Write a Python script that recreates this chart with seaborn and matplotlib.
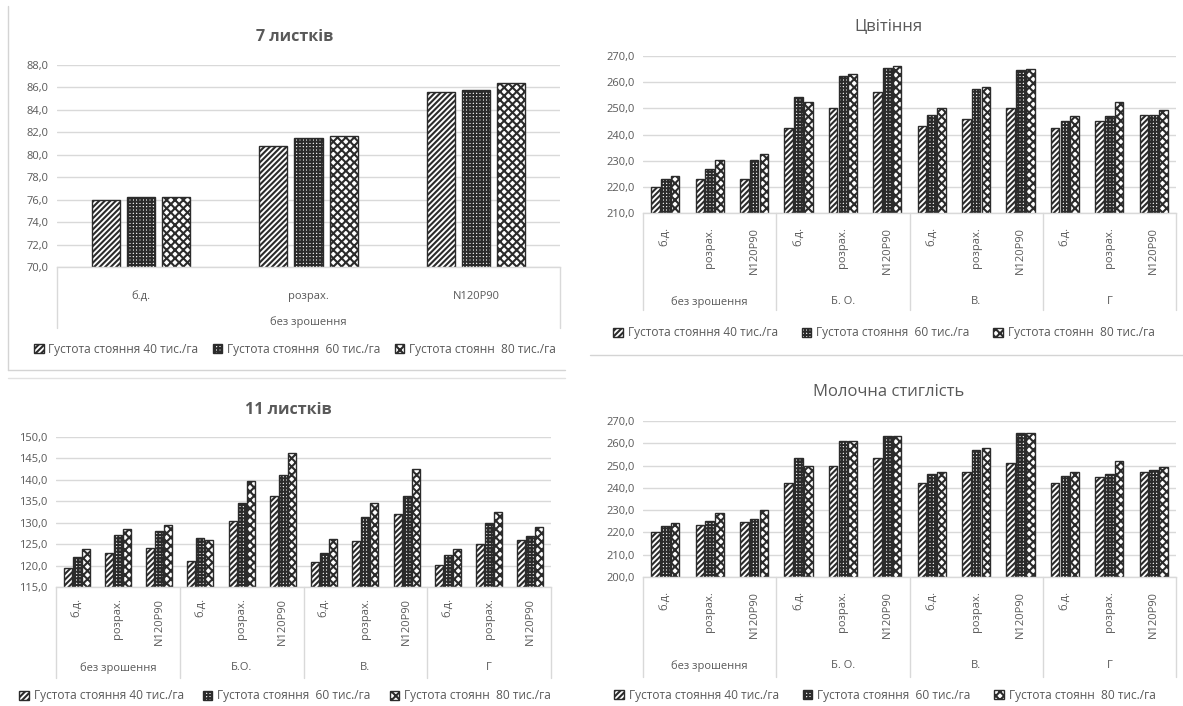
import matplotlib
matplotlib.use("Agg")
import matplotlib.pyplot as plt
import matplotlib.transforms as mtransforms
from matplotlib.lines import Line2D
from matplotlib.ticker import FuncFormatter, MultipleLocator
import seaborn as sns
import pandas as pd

# ---- data -------------------------------------------------------------
series = ["Густота стояння 40 тис./га",
          "Густота стояння  60 тис./га",
          "Густота стоянн  80 тис./га"]
doses = ["б.д.", "розрах.", "N120P90"]

groups_leaf7 = ["без зрошення"]
groups_leaf11 = ["без зрошення", "Б.О.", "В.", "Г"]
groups_bloom = ["без зрошення", "Б. О.", "В.", "Г"]
groups_milk = ["без зрошення", "Б. О.", "В.", "Г"]

leaf7_40 = [76.0, 80.8, 85.6]
leaf7_60 = [76.2, 81.5, 85.8]
leaf7_80 = [76.2, 81.7, 86.4]

leaf11_40 = [119.5, 123.0, 124.0, 121.1, 130.3, 136.2, 120.9, 125.8, 132.0, 120.2, 125.0, 126.0]
leaf11_60 = [122.0, 127.2, 128.0, 126.4, 134.6, 141.2, 123.0, 131.4, 136.2, 122.5, 130.0, 127.0]
leaf11_80 = [123.8, 128.5, 129.5, 126.0, 139.8, 146.2, 126.1, 134.6, 142.6, 123.8, 132.4, 129.1]

bloom_40 = [220.1, 222.9, 223.0, 242.3, 250.2, 256.1, 243.1, 246.0, 250.2, 242.4, 245.1, 247.6]
bloom_60 = [223.0, 226.7, 230.2, 254.2, 262.1, 265.2, 247.6, 257.2, 264.5, 245.1, 247.0, 247.6]
bloom_80 = [224.3, 230.2, 232.6, 252.3, 263.0, 266.1, 250.2, 257.9, 264.8, 247.0, 252.3, 249.4]

milk_40 = [220.3, 223.3, 224.5, 242.4, 250.0, 253.2, 242.3, 247.0, 251.2, 242.4, 244.8, 247.0]
milk_60 = [223.0, 225.2, 226.2, 253.2, 261.1, 263.3, 246.0, 256.9, 264.4, 245.1, 246.0, 247.8]
milk_80 = [224.3, 228.8, 230.0, 250.0, 261.1, 263.3, 247.0, 257.8, 264.8, 246.9, 252.2, 249.2]

# ---- style ------------------------------------------------------------
sns.set_theme(style="white")
plt.rcParams["font.family"] = ["Open Sans", "DejaVu Sans"]
plt.rcParams["hatch.linewidth"] = 1.5
TXT = "#595959"
GRID = "#d9d9d9"
EDGE = "#2b2b2b"
HATCHES = ["//////", "+++++", "xxxx"]

W, H = 1183, 706
fig = plt.figure(figsize=(W / 100, H / 100), dpi=100)
fig.patch.set_facecolor("white")


def px_axes(left, top, right, bottom):
    return fig.add_axes([left / W, 1 - bottom / H, (right - left) / W, (bottom - top) / H])


def long_frame(groups, values):
    rows = []
    for s, vals in zip(series, values):
        i = 0
        for g in groups:
            for d in doses:
                rows.append({"cat": f"{g}|{d}", "series": s, "value": vals[i]})
                i += 1
    return pd.DataFrame(rows)


def draw(ax, groups, values, ylim, ystep, title, title_xy, title_kw,
         legend_xy, rotated, tick_pad, group_y, box_bottom, width, gap,
         legend_spacing):
    df = long_frame(groups, values)
    order = [f"{g}|{d}" for g in groups for d in doses]
    sns.barplot(data=df, x="cat", y="value", hue="series", order=order,
                hue_order=series, palette=["white"] * 3, edgecolor=EDGE,
                linewidth=1.0, width=width, gap=gap, legend=False,
                saturation=1, ax=ax)
    for cont, h in zip(ax.containers, HATCHES):
        for p in cont:
            p.set_hatch(h)
            p.set_edgecolor(EDGE)

    n = len(order)
    ax.set_xlim(-0.5, n - 0.5)
    ax.set_ylim(*ylim)
    ax.yaxis.set_major_locator(MultipleLocator(ystep))
    ax.yaxis.set_major_formatter(FuncFormatter(lambda v, _: f"{v:.1f}".replace(".", ",")))
    ax.yaxis.grid(True, color=GRID, lw=1.0)
    ax.set_axisbelow(True)
    for side in ("left", "right", "top"):
        ax.spines[side].set_visible(False)
    ax.spines["bottom"].set_color(GRID)
    ax.spines["bottom"].set_linewidth(1.0)
    ax.set_xlabel("")
    ax.set_ylabel("")
    ax.set_xticks(range(n))
    ax.set_xticklabels([d for g in groups for d in doses],
                       rotation=90 if rotated else 0,
                       va="top", ha="center")
    ax.tick_params(axis="x", length=0, pad=tick_pad, labelsize=8, labelcolor=TXT)
    ax.tick_params(axis="y", length=0, pad=6, labelsize=8, labelcolor=TXT)

    tr = mtransforms.blended_transform_factory(ax.transData, fig.transFigure)
    for k, g in enumerate(groups):
        ax.text(3 * k + 1, 1 - group_y / H, g, transform=tr, ha="center",
                va="center", fontsize=8, color=TXT)
    axis_y = ax.get_position().y0
    for k in range(len(groups) + 1):
        xb = 3 * k - 0.5
        ax.add_line(Line2D([xb, xb], [axis_y, 1 - box_bottom / H],
                           transform=tr, color=GRID, lw=1.0, clip_on=False))

    fig.text(title_xy[0] / W, 1 - title_xy[1] / H, title, ha="center",
             va="center", color=TXT, **title_kw)

    ax.legend(handles=list(ax.containers), labels=series, loc="center",
              bbox_to_anchor=(legend_xy[0] / W, 1 - legend_xy[1] / H),
              bbox_transform=fig.transFigure, ncol=3, frameon=False,
              handlelength=0.8, handleheight=0.8, handletextpad=0.4,
              columnspacing=legend_spacing, fontsize=8.6, labelcolor=TXT)


# 7 leaves (top left)
ax1 = px_axes(57, 65, 560, 267)
draw(ax1, groups_leaf7, [leaf7_40, leaf7_60, leaf7_80], (70, 88), 2.0,
     "7 листків", (295, 37), dict(fontsize=11.5, fontweight="bold"),
     (295, 349), False, 17, 322, 328, 0.63, 0.2, 1.2)

# flowering (top right)
ax2 = px_axes(643, 55.7, 1176, 213.3)
draw(ax2, groups_bloom, [bloom_40, bloom_60, bloom_80], (210, 270), 10.0,
     "Цвітіння", (889, 27), dict(fontsize=12),
     (884, 333), True, 10, 302, 310, 0.66, 0.12, 2.0)

# 11 leaves (bottom left)
ax3 = px_axes(56, 437, 551, 587)
draw(ax3, groups_leaf11, [leaf11_40, leaf11_60, leaf11_80], (115, 150), 5.0,
     "11 листків", (288, 410), dict(fontsize=11.5, fontweight="bold"),
     (285, 696), True, 8, 668, 678, 0.66, 0.12, 1.6)

# milk ripeness (bottom right)
ax4 = px_axes(643, 421, 1176, 577)
draw(ax4, groups_milk, [milk_40, milk_60, milk_80], (200, 270), 10.0,
     "Молочна стиглість", (889, 392), dict(fontsize=12),
     (885, 695), True, 10, 666, 677, 0.66, 0.12, 2.0)

# frame lines between the panels
def fig_line(x0, y0, x1, y1, color="#d4d4d4", lw=1.0):
    fig.add_artist(Line2D([x0 / W, x1 / W], [1 - y0 / H, 1 - y1 / H],
                          color=color, lw=lw))

fig_line(8, 6, 8, 370)
fig_line(8, 370, 565, 370)
fig_line(8, 378, 565, 378, color="#e2e2e2")
fig_line(590, 355, 1183, 355)

fig.savefig("out.png", dpi=100, facecolor="white")
